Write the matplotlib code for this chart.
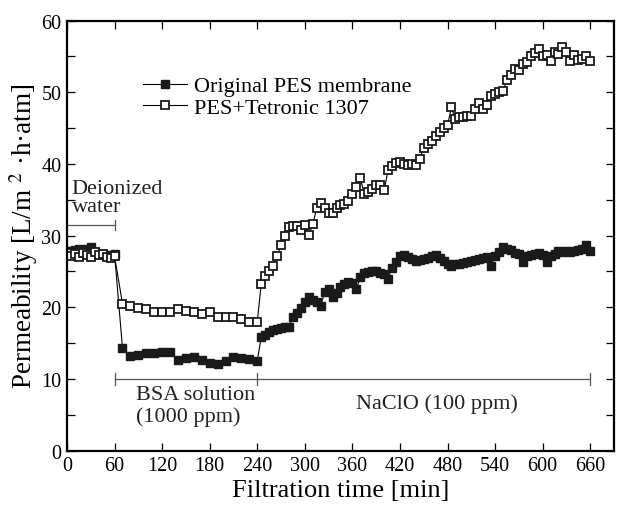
import matplotlib
matplotlib.use("Agg")
import matplotlib.pyplot as plt
from matplotlib.ticker import MultipleLocator

plt.rcParams['font.family'] = ['Liberation Serif', 'DejaVu Serif']
plt.rcParams['mathtext.fontset'] = 'stix'

# sampling times [min]
time_min = [0, 5, 10, 15, 20, 25, 30, 35, 40, 45, 50, 55, 60,
            70, 80, 90, 100, 110, 120, 130, 140, 150, 160, 170, 180, 190,
            200, 210, 220, 230, 240,
            245, 250, 255, 260, 265, 270, 275, 280, 285, 290, 295, 300,
            305, 310, 315, 320, 325, 330, 335, 340, 345, 350, 355, 360,
            365, 370, 375, 380, 385, 390, 395, 400, 405, 410, 415, 420,
            425, 430, 435, 440, 445, 450, 455, 460, 465, 470, 475, 480,
            485, 490, 495, 500, 505, 510, 515, 520, 525, 530, 535, 540,
            545, 550, 555, 560, 565, 570, 575, 580, 585, 590, 595, 600,
            605, 610, 615, 620, 625, 630, 635, 640, 645, 650, 655, 660]

# Original PES membrane
pes_original = [27.8, 27.9, 28.0, 28.1, 28.0, 28.2, 28.4, 27.7, 27.5, 27.5, 27.3, 27.1, 27.4,
                14.3, 13.2, 13.3, 13.6, 13.6, 13.7, 13.8, 12.6, 12.9, 13.0, 12.6, 12.2, 12.1,
                12.5, 13.0, 12.9, 12.8, 12.5,
                15.9, 16.2, 16.6, 16.9, 17.0, 17.1, 17.2, 17.2, 18.7, 19.2, 19.9, 20.8,
                21.4, 21.0, 20.7, 20.2, 22.1, 22.5, 21.5, 22.0, 22.8, 23.2, 23.5, 23.4,
                22.6, 24.2, 24.8, 24.9, 25.0, 25.1, 24.8, 24.6, 24.0, 25.5, 26.3, 27.1,
                27.3, 27.0, 26.8, 26.5, 26.6, 26.7, 26.9, 27.1, 27.3, 26.9, 26.4, 26.0,
                25.8, 26.0, 26.1, 26.2, 26.3, 26.5, 26.6, 26.7, 26.9, 27.0, 25.8, 27.2,
                27.7, 28.4, 28.2, 28.0, 27.6, 27.4, 26.3, 27.2, 27.3, 27.4, 27.6, 27.3,
                26.3, 27.2, 27.4, 27.8, 27.7, 27.8, 27.7, 27.9, 28.0, 28.2, 28.7, 27.8]

# PES + Tetronic 1307
pes_tetronic = [27.6, 27.2, 27.5, 27.0, 27.6, 27.3, 27.0, 27.7, 27.3, 27.5, 27.0, 26.9, 27.1,
                20.5, 20.2, 19.9, 19.8, 19.4, 19.4, 19.3, 19.8, 19.5, 19.4, 19.1, 19.3, 18.7,
                18.6, 18.6, 18.3, 18.0, 18.0,
                23.2, 24.4, 25.1, 25.8, 27.1, 28.7, 30.0, 31.2, 31.3, 31.3, 30.8, 31.5,
                30.1, 31.6, 33.8, 34.5, 33.8, 33.1, 33.2, 33.8, 34.2, 34.4, 34.8, 35.8,
                36.8, 38.0, 35.8, 36.1, 36.5, 37.1, 37.1, 36.3, 39.1, 39.7, 40.1, 40.3,
                40.0, 39.8, 40.0, 39.8, 40.7, 42.2, 42.8, 43.2, 43.9, 44.5, 45.0, 45.4,
                47.9, 46.2, 46.5, 46.5, 46.7, 46.7, 47.7, 48.5, 47.7, 48.2, 49.5, 49.7,
                50.0, 50.2, 51.7, 52.4, 53.2, 53.1, 53.9, 54.2, 55.1, 55.5, 56.0, 55.0,
                55.2, 54.4, 55.6, 55.3, 56.3, 55.6, 54.4, 55.2, 54.5, 54.7, 55.1, 54.4]

# stage boundaries [min]
di_stage = [0, 60]
feed_stages = [60, 240, 660]

fig = plt.figure(figsize=(6.17, 5.06), dpi=100)
ax = fig.add_axes([0.1086, 0.1073, 0.8865, 0.8502])

ax.plot(time_min, pes_original, color='black', lw=0.8, marker='s', ms=5.4,
        mfc='#1a1a1a', mec='#1a1a1a', label='Original PES membrane')
ax.plot(time_min, pes_tetronic, color='black', lw=0.8, marker='s', ms=5.2,
        mfc='white', mec='#1a1a1a', mew=1.3, label='PES+Tetronic 1307')

# stage brackets
bar_col = '#555555'
ax.plot(di_stage, [31.5, 31.5], color=bar_col, lw=0.9)
ax.plot([di_stage[1], di_stage[1]], [30.8, 32.2], color=bar_col, lw=0.9)
ax.plot([feed_stages[0], feed_stages[-1]], [10, 10], color=bar_col, lw=0.9)
for t in feed_stages:
    ax.plot([t, t], [9.2, 10.8], color=bar_col, lw=0.9)

txt = dict(fontsize=16, color='#222222')
ax.text(6, 35.3, 'Deionized\nwater', ha='left', va='center', linespacing=0.95, **txt)
ax.text(87, 6.3, 'BSA solution\n(1000 ppm)', ha='left', va='center', linespacing=1.1, **txt)
ax.text(467, 6.7, 'NaClO (100 ppm)', ha='center', va='center', **txt)

ax.set_xlim(0, 690)
ax.set_ylim(0, 60)
ax.xaxis.set_major_locator(MultipleLocator(60))
ax.yaxis.set_major_locator(MultipleLocator(10))
ax.yaxis.set_minor_locator(MultipleLocator(5))
ax.tick_params(which='both', direction='in', top=True, right=True, labelsize=14.5, pad=4)
ax.tick_params(which='major', length=6, width=0.9)
ax.tick_params(which='minor', length=6, width=0.9)
for s in ax.spines.values():
    s.set_linewidth(1.6)

ax.set_xlabel('Filtration time [min]', fontsize=19, labelpad=3)
ax.set_ylabel('Permeability [L/m $^{2}$ ·h·atm]', fontsize=19.5, labelpad=1)

leg = ax.legend(loc='upper left', bbox_to_anchor=(0.1225, 0.892), frameon=False,
                fontsize=16, handlelength=2.0, handletextpad=0.3, labelspacing=0.05,
                borderaxespad=0)

fig.savefig('out.png', dpi=100)
